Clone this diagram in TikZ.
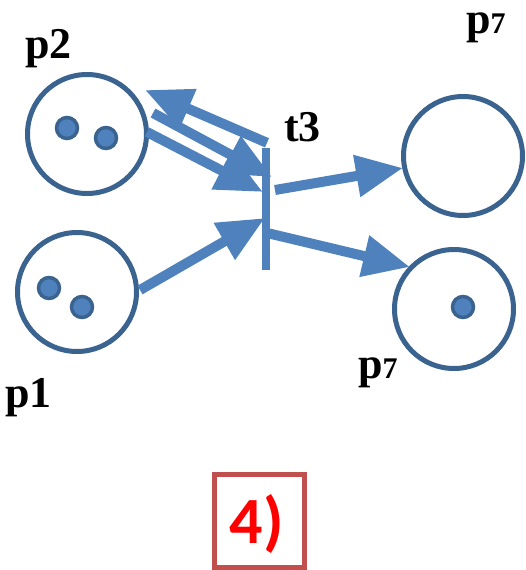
\documentclass[tikz,border=0pt]{standalone}
\usepackage{fontspec}
\setmainfont{Liberation Serif}
\newfontfamily\boxfont{Carlito}
\usetikzlibrary{arrows.meta,calc}
\definecolor{arrblue}{HTML}{4F81BD}
\definecolor{ringblue}{HTML}{3A6390}
\definecolor{boxred}{HTML}{C0504D}
\begin{document}
\begin{tikzpicture}[x=1pt,y=-1pt,
  place/.style={circle,draw=ringblue,line width=5pt,minimum size=119pt,inner sep=0pt},
  token/.style={circle,fill=arrblue,draw=ringblue,line width=3.5pt,minimum size=21pt,inner sep=0pt},
  lbl/.style={font=\bfseries\fontsize{44}{44}\selectfont,anchor=base west,inner sep=0pt},
  arc/.style={draw=arrblue,line width=10pt,-{Triangle[length=47pt,width=40pt]}}
]
\useasboundingbox (0,0) rectangle (525,570);
% places
\node[place] (p2) at (87,134) {};
\node[place] (p1) at (77,292) {};
\node[place] (p7a) at (463,156) {};
\node[place] (p7b) at (454,309) {};
% tokens
\node[token] (k1) at (67,128) {};
\node[token] (k2) at (106,138) {};
\node[token] (k3) at (49,288) {};
\node[token] (k4) at (82,307) {};
\node[token] (k5) at (463,307) {};
% transition
\node[fill=arrblue,minimum width=8pt,minimum height=122pt,inner sep=0pt] (t3) at (266,209) {};
% arcs
\draw[arc] ($(t3.north)+(1,-5)$) -- ($(p2.center)+(58,-44)$);
\draw[arc] ($(p2.center)+(66,-21)$) -- ($(t3.center)+(6,-32)$);
\draw[arc] ($(p2.center)+(60,-2)$) -- ($(t3.center)+(-3,-17)$);
\draw[arc] ($(p1.center)+(63,-2)$) -- ($(t3.center)+(-1,9)$);
\draw[arc] ($(t3.center)+(9,-19)$) -- ($(p7a.center)+(-60,12)$);
\draw[arc] ($(t3.center)+(-3,23)$) -- ($(p7b.center)+(-44,-42)$);
% labels
\node[lbl] (lp2) at (25,58) {p2};
\node[lbl] (lt3) at (284,141) {t3};
\node[lbl] (lp1) at (5,407) {p1};
\node[lbl] (lp7a) at (466,33) {p{\fontsize{30}{30}\selectfont 7}};
\node[lbl] (lp7b) at (358,378) {p{\fontsize{30}{30}\selectfont 7}};
% box
\node[draw=boxred,line width=5pt,minimum width=90pt,minimum height=93pt,inner sep=0pt] (box) at (259.5,521) {};
\node[anchor=base,inner sep=0pt,text=red,font=\boxfont\bfseries\fontsize{66}{66}\selectfont] (num) at (257,543) {4)};
\end{tikzpicture}
\end{document}
